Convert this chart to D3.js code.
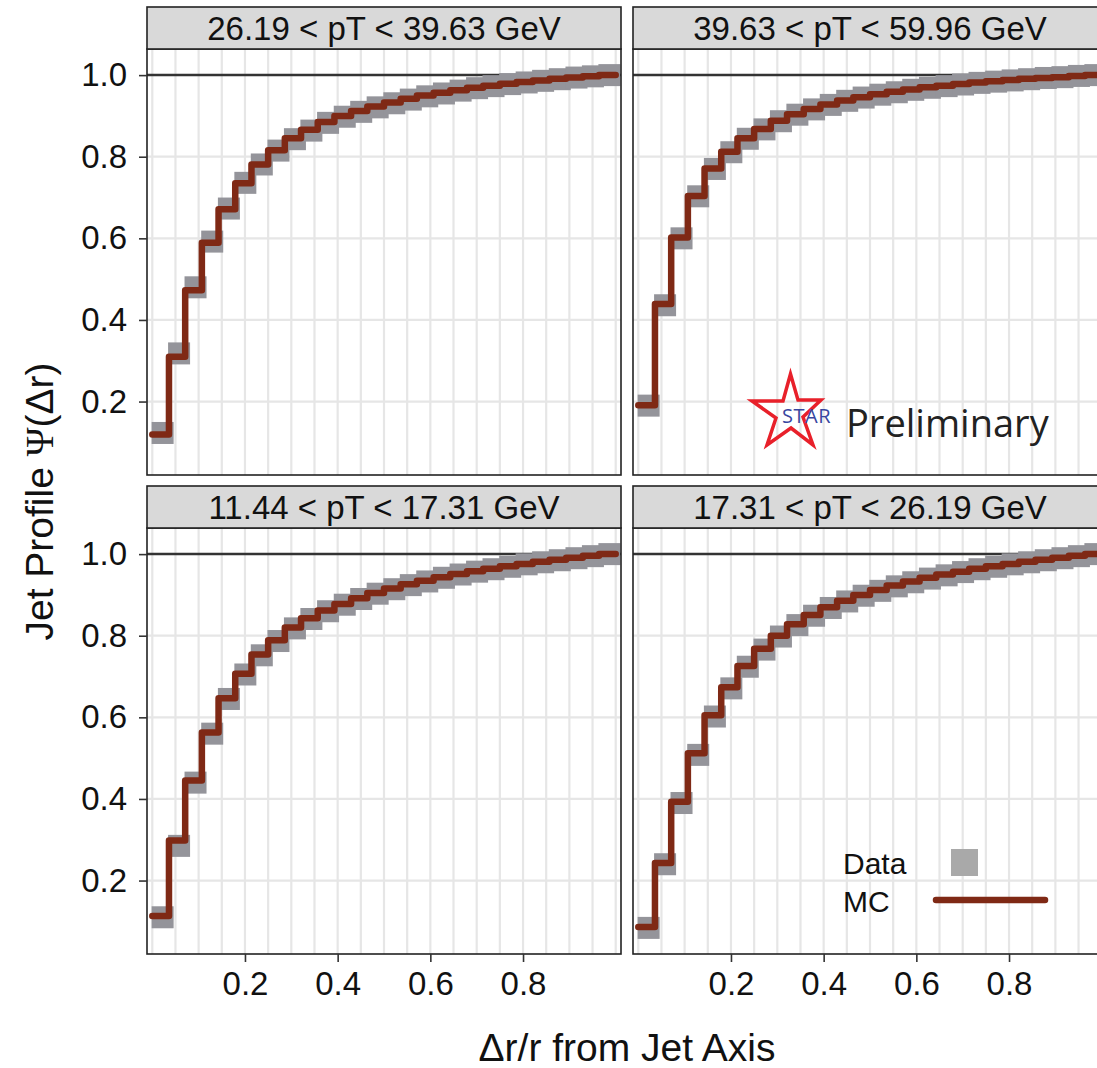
<!DOCTYPE html>
<html>
<head>
<meta charset="utf-8">
<script src="https://cdn.jsdelivr.net/npm/d3@7"></script>
<style>
  body { margin: 0; background: #fff; }
  svg text { font-family: "Liberation Sans", Arial, Helvetica, sans-serif; }
</style>
</head>
<body>
<script>
'use strict'

let width = 1097
let height = 1068

// dr/r bin edges (28 bins)
let binEdges = [0, 0.036, 0.071, 0.107, 0.143, 0.179, 0.214, 0.25, 0.286, 0.321,
  0.357, 0.393, 0.429, 0.464, 0.5, 0.536, 0.571, 0.607, 0.643, 0.679,
  0.714, 0.75, 0.786, 0.821, 0.857, 0.893, 0.929, 0.964, 1.0]

let panelTitles = ["26.19 < pT < 39.63 GeV", "39.63 < pT < 59.96 GeV",
                   "11.44 < pT < 17.31 GeV", "17.31 < pT < 26.19 GeV"]

// MC step values per pT bin
let mc_26_39 = [0.119, 0.310, 0.473, 0.589, 0.671, 0.735, 0.781, 0.816, 0.845, 0.866,
  0.885, 0.900, 0.912, 0.923, 0.933, 0.942, 0.950, 0.957, 0.963, 0.969,
  0.974, 0.979, 0.983, 0.987, 0.991, 0.994, 0.997, 1.0]
let mc_39_60 = [0.191, 0.439, 0.602, 0.704, 0.771, 0.812, 0.845, 0.868, 0.888, 0.904,
  0.917, 0.928, 0.938, 0.946, 0.953, 0.959, 0.965, 0.970, 0.974, 0.978,
  0.982, 0.985, 0.988, 0.991, 0.993, 0.995, 0.998, 1.0]
let mc_11_17 = [0.113, 0.298, 0.445, 0.563, 0.647, 0.707, 0.754, 0.789, 0.820, 0.843,
  0.862, 0.878, 0.892, 0.905, 0.916, 0.926, 0.935, 0.943, 0.951, 0.958,
  0.964, 0.970, 0.976, 0.981, 0.986, 0.991, 0.996, 1.0]
let mc_17_26 = [0.086, 0.243, 0.393, 0.512, 0.605, 0.674, 0.726, 0.768, 0.800, 0.828,
  0.851, 0.870, 0.886, 0.900, 0.912, 0.923, 0.933, 0.942, 0.950, 0.957,
  0.964, 0.970, 0.976, 0.981, 0.986, 0.991, 0.996, 1.0]

// Data values (squares)
let data_26_39 = [0.123, 0.318, 0.480, 0.592, 0.673, 0.736, 0.781, 0.815, 0.843, 0.864,
  0.883, 0.898, 0.910, 0.921, 0.931, 0.940, 0.948, 0.955, 0.962, 0.968,
  0.973, 0.978, 0.982, 0.986, 0.990, 0.994, 0.997, 1.0]
let data_39_60 = [0.190, 0.436, 0.600, 0.703, 0.770, 0.811, 0.844, 0.867, 0.887, 0.903,
  0.916, 0.927, 0.937, 0.945, 0.952, 0.958, 0.964, 0.969, 0.973, 0.977,
  0.981, 0.984, 0.987, 0.990, 0.993, 0.995, 0.998, 1.0]
let data_11_17 = [0.110, 0.285, 0.440, 0.560, 0.645, 0.705, 0.752, 0.787, 0.818, 0.841,
  0.860, 0.876, 0.890, 0.903, 0.914, 0.924, 0.933, 0.942, 0.950, 0.957,
  0.963, 0.969, 0.975, 0.980, 0.985, 0.990, 0.995, 1.0]
let data_17_26 = [0.084, 0.240, 0.390, 0.508, 0.602, 0.671, 0.724, 0.766, 0.798, 0.826,
  0.849, 0.868, 0.884, 0.898, 0.910, 0.921, 0.931, 0.940, 0.948, 0.956,
  0.963, 0.969, 0.975, 0.980, 0.985, 0.990, 0.995, 1.0]

let xTicks = [0.2, 0.4, 0.6, 0.8]
let yTicks = [0.2, 0.4, 0.6, 0.8, 1.0]
let xGrid = [0, 0.05, 0.1, 0.15, 0.2, 0.25, 0.3, 0.35, 0.4, 0.45, 0.5,
  0.55, 0.6, 0.65, 0.7, 0.75, 0.8, 0.85, 0.9, 0.95, 1.0]
let yGrid = [0.2, 0.4, 0.6, 0.8]

// layout
let panelW = 474, panelH = 426, stripH = 42
let panelX = [147, 633]
let panelY = [49, 528]

let mcColor = "#7f2915"
let dataColor = "#94949a"

let panels = [
  { title: panelTitles[0], mc: mc_26_39, data: data_26_39, col: 0, row: 0 },
  { title: panelTitles[1], mc: mc_39_60, data: data_39_60, col: 1, row: 0 },
  { title: panelTitles[2], mc: mc_11_17, data: data_11_17, col: 0, row: 1 },
  { title: panelTitles[3], mc: mc_17_26, data: data_17_26, col: 1, row: 1 }
]

let svg = d3.select("body").append("svg")
  .attr("width", width)
  .attr("height", height)

let xscale = d3.scaleLinear().domain([-0.0114, 1.0114]).range([0, panelW])
let yscale = d3.scaleLinear().domain([0.02, 1.064]).range([panelH, 0])

panels.forEach(function (p, k) {
  let g = svg.append("g")
    .attr("transform", "translate(" + panelX[p.col] + "," + panelY[p.row] + ")")

  g.append("clipPath").attr("id", "clip" + k)
    .append("rect").attr("width", panelW).attr("height", panelH)

  g.append("rect").attr("width", panelW).attr("height", panelH).attr("fill", "#fff")

  let inner = g.append("g").attr("clip-path", "url(#clip" + k + ")")

  // grid
  inner.selectAll(".vg").data(xGrid).enter().append("line")
    .attr("x1", d => xscale(d)).attr("x2", d => xscale(d))
    .attr("y1", 0).attr("y2", panelH)
    .attr("stroke", "#e6e6e6").attr("stroke-width", 2.2)
  inner.selectAll(".hg").data(yGrid).enter().append("line")
    .attr("y1", d => yscale(d)).attr("y2", d => yscale(d))
    .attr("x1", 0).attr("x2", panelW)
    .attr("stroke", "#e6e6e6").attr("stroke-width", 2.2)

  // reference line at 1
  inner.append("line")
    .attr("x1", 0).attr("x2", panelW)
    .attr("y1", yscale(1)).attr("y2", yscale(1))
    .attr("stroke", "#333").attr("stroke-width", 2.5)

  // data squares at bin centres
  let sq = 22
  inner.selectAll(".sq").data(p.data).enter().append("rect")
    .attr("x", (d, i) => xscale((binEdges[i] + binEdges[i + 1]) / 2) - sq / 2 + 2)
    .attr("y", d => yscale(d) - sq / 2)
    .attr("width", sq).attr("height", sq)
    .attr("fill", dataColor)

  // MC step line
  let pts = p.mc.map((v, i) => [binEdges[i], v])
  pts.push([binEdges[binEdges.length - 1], p.mc[p.mc.length - 1]])
  let line = d3.line()
    .x(d => xscale(d[0]))
    .y(d => yscale(d[1]))
    .curve(d3.curveStepAfter)
  inner.append("path")
    .attr("d", line(pts))
    .attr("fill", "none")
    .attr("stroke", mcColor)
    .attr("stroke-width", 6.5)
    .attr("stroke-linejoin", "round")
    .attr("stroke-linecap", "round")

  // border
  g.append("rect").attr("width", panelW).attr("height", panelH)
    .attr("fill", "none").attr("stroke", "#222").attr("stroke-width", 1.6)

  // strip
  g.append("rect")
    .attr("y", -stripH).attr("width", panelW).attr("height", stripH)
    .attr("fill", "#d9d9d9").attr("stroke", "#222").attr("stroke-width", 1.6)
  g.append("text")
    .attr("x", panelW / 2).attr("y", -stripH / 2 + 12)
    .attr("text-anchor", "middle")
    .style("font-size", "33px").style("fill", "#111")
    .text(p.title)

  // axes
  if (p.col == 0) {
    let yAxis = d3.axisLeft(yscale).tickValues(yTicks)
      .tickFormat(d3.format(".1f")).tickSize(8).tickPadding(12)
    let ga = g.append("g").call(yAxis)
    ga.select(".domain").remove()
    ga.selectAll("line").attr("stroke", "#333").attr("stroke-width", 1.6)
    ga.selectAll("text").style("font-size", "33px").style("fill", "#111")
      .style("font-family", "Liberation Sans, Arial, sans-serif")
  }
  if (p.row == 1) {
    let xAxis = d3.axisBottom(xscale).tickValues(xTicks)
      .tickFormat(d3.format(".1f")).tickSize(8).tickPadding(10)
    let ga = g.append("g").attr("transform", "translate(0," + panelH + ")").call(xAxis)
    ga.select(".domain").remove()
    ga.selectAll("line").attr("stroke", "#333").attr("stroke-width", 1.6)
    ga.selectAll("text").style("font-size", "33px").style("fill", "#111")
      .style("font-family", "Liberation Sans, Arial, sans-serif")
  }
})

// axis titles
svg.append("text")
  .attr("transform", "translate(53," + (panelY[0] + (panelY[1] + panelH - panelY[0]) / 2) + ")rotate(-90)")
  .attr("text-anchor", "middle")
  .style("font-size", "39px").style("fill", "#111")
  .html('Jet Profile <tspan style="font-family:\'Liberation Serif\',serif">\u03A8</tspan>(\u0394r)')

svg.append("text")
  .attr("x", panelX[0] + (panelX[1] + panelW - panelX[0]) / 2)
  .attr("y", 1061)
  .attr("text-anchor", "middle")
  .style("font-size", "39px").style("fill", "#111")
  .text("\u0394r/r from Jet Axis")

// legend (bottom-right panel)
let lg = svg.append("g")
lg.append("text").attr("x", 843).attr("y", 874).style("font-size", "30px").style("fill", "#111").text("Data")
lg.append("text").attr("x", 843).attr("y", 912).style("font-size", "30px").style("fill", "#111").text("MC")
lg.append("rect").attr("x", 951).attr("y", 849).attr("width", 27).attr("height", 27).attr("fill", "#a9a9a9")
lg.append("line").attr("x1", 936).attr("x2", 1045).attr("y1", 900).attr("y2", 900)
  .attr("stroke", mcColor).attr("stroke-width", 6.5).attr("stroke-linecap", "round")

// STAR Preliminary mark
let star = [[790.5, 374], [798, 400], [821, 400], [803, 417], [813, 445],
            [791, 428], [767, 445], [776, 418], [752, 401], [783, 401]]
svg.append("polygon")
  .attr("points", star.map(d => d.join(",")).join(" "))
  .attr("fill", "none").attr("stroke", "#e8202a").attr("stroke-width", 3.5)
  .attr("stroke-linejoin", "miter")
svg.append("text").attr("x", 782).attr("y", 423)
  .style("font-family", "Open Sans, sans-serif").style("font-size", "20px")
  .style("letter-spacing", "0.5px").style("fill", "#3846a0").text("STAR")
svg.append("text").attr("x", 846).attr("y", 437)
  .style("font-family", "Open Sans, sans-serif").style("font-size", "38px")
  .style("fill", "#222").text("Preliminary")
</script>
</body>
</html>
